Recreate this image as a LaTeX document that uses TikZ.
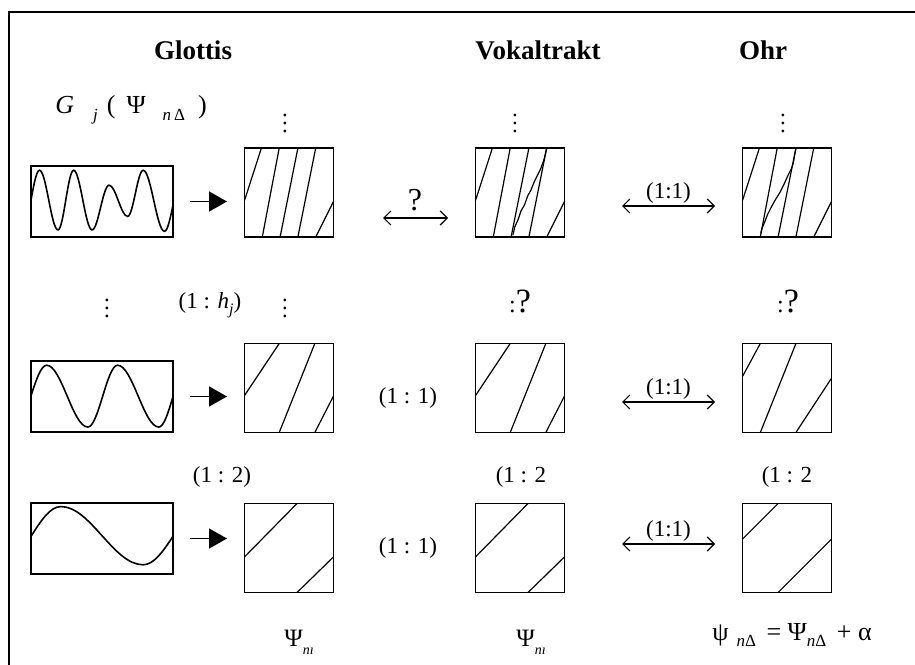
\documentclass[tikz,border=0pt]{standalone}
\usepackage{fontspec}
\setmainfont{Liberation Serif}
\usetikzlibrary{arrows.meta,calc}
\begin{document}
\begin{tikzpicture}[x=0.5pt,y=-0.5pt,
  sq/.style={draw, line width=0.9pt, minimum width=44.5pt, minimum height=44.5pt, inner sep=0pt, outer sep=0pt},
  wbox/.style={draw, line width=0.9pt, minimum width=71pt, minimum height=35.5pt, inner sep=0pt, outer sep=0pt},
  hd/.style={font=\fontsize{13.5}{16}\selectfont\bfseries, inner sep=0pt},
  lab/.style={font=\fontsize{11.5}{14}\selectfont, inner sep=0pt},
  big/.style={font=\fontsize{16}{18}\selectfont, inner sep=0pt},
  hatch/.style={line width=0.6pt},
  wave/.style={line width=0.8pt},
  fwd/.style={line width=0.8pt, -{Triangle[length=9pt,width=10pt]}},
  dbl/.style={line width=0.6pt, {Straight Barb[length=3.5pt,width=7pt]}-{Straight Barb[length=3.5pt,width=7pt]}},
]
\useasboundingbox (0,0) rectangle (915,664);
\draw[line width=1pt] (9,670) -- (9,12) -- (920,12);

% headers
\node[hd] (hG) at (193,50) {Glottis};
\node[hd] (hV) at (538,50) {Vokaltrakt};
\node[hd] (hO) at (763,50) {Ohr};

% G_j(Psi_nDelta)
\node[anchor=base west, inner sep=0pt, font=\fontsize{13}{15}\selectfont] (gl) at (55,113)
  {\textit{G}\hspace{9.5pt}\raisebox{-3.5pt}{\fontsize{8.5}{9}\selectfont\textit{j}}\hspace{4.5pt}(\hspace{5.5pt}Ψ\hspace{8.5pt}\raisebox{-3.5pt}{\fontsize{8.5}{9}\selectfont\textit{n}\,Δ}\hspace{6.5pt})};

% dots
\node[lab] (d1) at (285,117) {$\vdots$};
\node[lab] (d2) at (515,117) {$\vdots$};
\node[lab] (d3) at (783,117) {$\vdots$};
\node[lab] (d4) at (107,302) {$\vdots$};
\node[lab] (d5) at (285,302) {$\vdots$};

% squares
\node[sq] (g1) at (289,192.5) {};
\node[sq] (v1) at (520,192.5) {};
\node[sq] (o1) at (787,192.5) {};
\node[sq] (g2) at (289,388) {};
\node[sq] (v2) at (520,388) {};
\node[sq] (o2) at (787,388) {};
\node[sq] (g3) at (289,548) {};
\node[sq] (v3) at (520,548) {};
\node[sq] (o3) at (787,548) {};

% wave boxes
\node[wbox] (w1) at (102,201.5) {};
\node[wbox] (w2) at (102,396.5) {};
\node[wbox] (w3) at (102,538.5) {};

% hatching row 1
\begin{scope}[shift={(g1.south west)}, x=44.5pt, y=44.5pt, hatch]
  \draw (0,0.41)--(0.19,1) (0.2,0)--(0.39,1) (0.4,0)--(0.6,1) (0.6,0)--(0.8,1) (0.8,0)--(1,0.4);
\end{scope}
\begin{scope}[shift={(v1.south west)}, x=44.5pt, y=44.5pt, hatch]
  \draw (0,0.41)--(0.19,1) (0.2,0)--(0.39,1) (0.4,0)--(0.6,1) (0.6,0)--(0.8,1) (0.8,0)--(1,0.4);
  \draw (0.42,0.02)--(0.43,0.06)--(0.44,0.11)--(0.48,0.2)--(0.51,0.29)--(0.55,0.36)--(0.59,0.47)--(0.62,0.52)--(0.66,0.62)--(0.7,0.7)--(0.73,0.76)--(0.77,0.87)--(0.80,1);
\end{scope}
\begin{scope}[shift={(o1.south west)}, x=44.5pt, y=44.5pt, hatch]
  \draw (0,0.41)--(0.19,1) (0.2,0)--(0.39,1) (0.4,0)--(0.6,1) (0.6,0)--(0.8,1) (0.8,0)--(1,0.4);
  \draw (0.205,0.04)--(0.22,0.1)--(0.25,0.17)--(0.28,0.25)--(0.32,0.33)--(0.37,0.42)--(0.42,0.50)--(0.47,0.6)--(0.51,0.69)--(0.55,0.77)--(0.57,0.83)--(0.60,1);
\end{scope}
% row 2
\begin{scope}[shift={(g2.south west)}, x=44.5pt, y=44.5pt, hatch]
  \draw (0,0.415)--(0.39,1) (0.39,0)--(0.79,1) (0.79,0)--(1,0.41);
\end{scope}
\begin{scope}[shift={(v2.south west)}, x=44.5pt, y=44.5pt, hatch]
  \draw (0,0.415)--(0.39,1) (0.39,0)--(0.79,1) (0.79,0)--(1,0.41);
\end{scope}
\begin{scope}[shift={(o2.south west)}, x=44.5pt, y=44.5pt, hatch]
  \draw (0,0.63)--(0.2,1) (0.2,0)--(0.6,1) (0.6,0)--(1,0.61);
\end{scope}
% row 3
\begin{scope}[shift={(g3.south west)}, x=44.5pt, y=44.5pt, hatch]
  \draw (0,0.40)--(0.59,1) (0.59,0)--(1,0.40);
\end{scope}
\begin{scope}[shift={(v3.south west)}, x=44.5pt, y=44.5pt, hatch]
  \draw (0,0.40)--(0.59,1) (0.59,0)--(1,0.40);
\end{scope}
\begin{scope}[shift={(o3.south west)}, x=44.5pt, y=44.5pt, hatch]
  \draw (0,0.6)--(0.4,1) (0.4,0)--(1,0.6);
\end{scope}

% waves
\begin{scope}[shift={(w1.south west)}, x=71pt, y=35.5pt, wave]
  \draw (0,0.52) sin (0.06,0.94) cos (0.125,0.52) sin (0.19,0.10) cos (0.245,0.52) sin (0.30,0.94) cos (0.365,0.52) sin (0.43,0.10) cos (0.49,0.415) sin (0.55,0.73) cos (0.615,0.51) sin (0.68,0.29) cos (0.735,0.615) sin (0.79,0.94) cos (0.865,0.51) sin (0.94,0.08) cos (1,0.45);
\end{scope}
\begin{scope}[shift={(w2.south west)}, x=71pt, y=35.5pt, wave]
  \draw (0,0.51) sin (0.11,0.94) cos (0.255,0.505) sin (0.40,0.07) cos (0.505,0.505) sin (0.61,0.94) cos (0.755,0.505) sin (0.90,0.07) cos (1,0.50);
\end{scope}
\begin{scope}[shift={(w3.south west)}, x=71pt, y=35.5pt, wave]
  \draw (0,0.53) sin (0.21,0.95) cos (0.5,0.54) sin (0.79,0.13) cos (1,0.53);
\end{scope}

% filled arrows
\draw[fwd] ($(w1.east)+(17,0)$) -- ($(w1.east -| g1.west)+(-17.5,0)$);
\draw[fwd] ($(w2.east)+(17,0)$) -- ($(w2.east -| g2.west)+(-17.5,0)$);
\draw[fwd] ($(w3.east)+(17,0)$) -- ($(w3.east -| g3.west)+(-17.5,0)$);

% double arrows
\coordinate (q1a) at (383,218);
\coordinate (q1b) at (448,218);
\draw[dbl] (q1a) -- (q1b);
\node[big] (qm) at (415,200) {?};

\coordinate (r1a) at (622,206);
\coordinate (r1b) at (715,206);
\draw[dbl] (r1a) -- node[lab, above=1.2pt] (l1) {(1:1)} (r1b);
\coordinate (r2a) at (622,402);
\coordinate (r2b) at (715,402);
\draw[dbl] (r2a) -- node[lab, above=1.2pt] (l2) {(1:1)} (r2b);
\coordinate (r3a) at (622,544);
\coordinate (r3b) at (715,544);
\draw[dbl] (r3a) -- node[lab, above=1.2pt] (l3) {(1:1)} (r3b);

% other labels
\node[lab] (hj) at (210,305) {(1 : \textit{h}\raisebox{-3pt}{\fontsize{8}{9}\selectfont\textit{j}})};
\node[inner sep=0pt] (qv) at (520,301) {{\fontsize{12}{14}\selectfont :}{\fontsize{17}{19}\selectfont ?}};
\node[inner sep=0pt] (qo) at (788,301) {{\fontsize{12}{14}\selectfont :}{\fontsize{17}{19}\selectfont ?}};
\node[lab] (m2) at (408,398) {(1 : 1)};
\node[lab] (m3) at (408,548) {(1 : 1)};
\node[lab] (t1) at (222,477) {(1 : 2)};
\node[lab] (t2) at (521,477) {(1 : 2};
\node[lab] (t3) at (787,477) {(1 : 2};

% bottom labels
\node[inner sep=0pt, font=\fontsize{12.5}{14}\selectfont] (p1) at (299,642) {Ψ\raisebox{-4pt}{\fontsize{7}{8}\selectfont\textit{nı}}};
\node[inner sep=0pt, font=\fontsize{12.5}{14}\selectfont] (p2) at (531,642) {Ψ\raisebox{-4pt}{\fontsize{7}{8}\selectfont\textit{nı}}};
\node[inner sep=0pt, font=\fontsize{13}{15}\selectfont] (p3) at (792,635) {ψ\hspace{4pt}\raisebox{-3pt}{\fontsize{8.5}{9}\selectfont\textit{n}Δ}\hspace{2pt} = Ψ\raisebox{-3pt}{\fontsize{8.5}{9}\selectfont\textit{n}Δ}\hspace{2pt} + α};
\end{tikzpicture}
\end{document}
